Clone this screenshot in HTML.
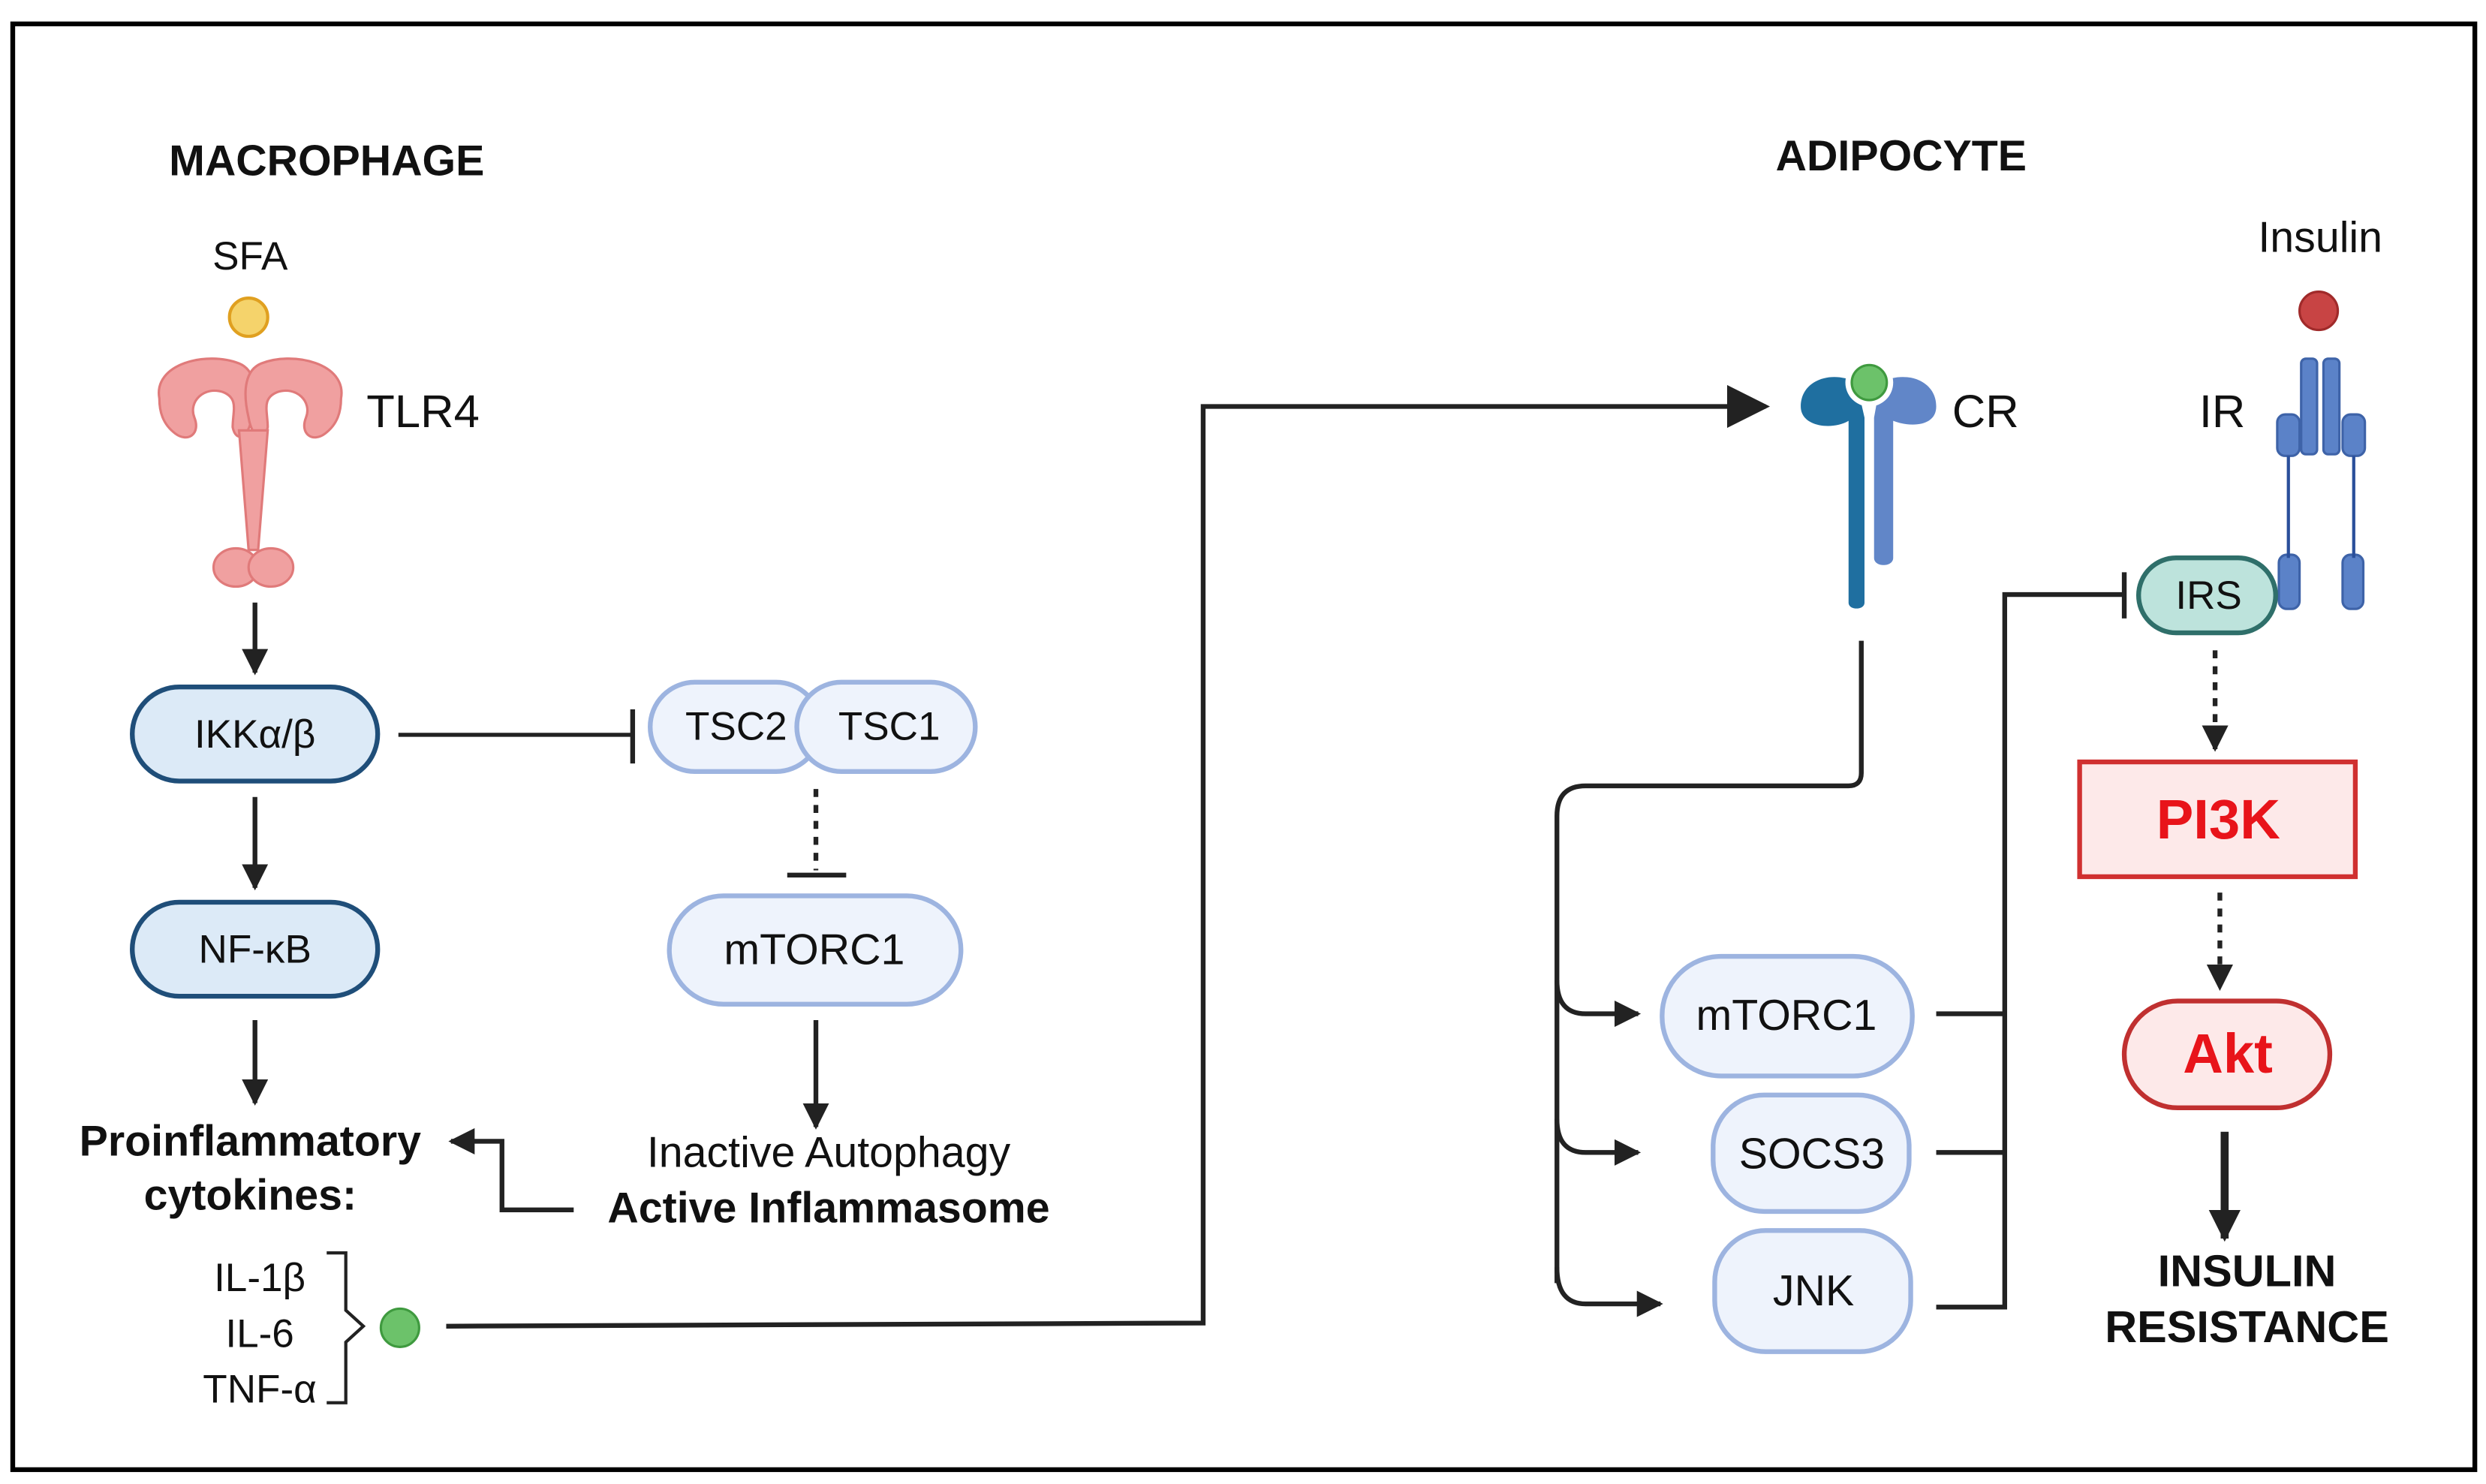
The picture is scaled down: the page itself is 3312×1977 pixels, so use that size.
<!DOCTYPE html>
<html><head><meta charset="utf-8"><style>
html,body{margin:0;padding:0;background:#fff;}
svg{display:block;}
text{font-family:"Liberation Sans",sans-serif;fill:#111;}
.b{font-weight:bold;}
</style></head><body>
<svg width="3312" height="1977" viewBox="0 0 1560 931" preserveAspectRatio="none" xmlns="http://www.w3.org/2000/svg">
<defs>
<marker id="ah" viewBox="0 0 10 10" refX="9" refY="5" markerWidth="5.5" markerHeight="5.5" orient="auto" markerUnits="strokeWidth"><path d="M0,0 L10,5 L0,10 z" fill="#222"/></marker>
<marker id="ahb" viewBox="0 0 10 10" refX="9" refY="5" markerWidth="4" markerHeight="4" orient="auto" markerUnits="strokeWidth"><path d="M0,0 L10,5 L0,10 z" fill="#222"/></marker>
<marker id="ahs" viewBox="0 0 10 10" refX="9" refY="5" markerWidth="9" markerHeight="9" orient="auto" markerUnits="strokeWidth"><path d="M0,0 L10,5 L0,10 z" fill="#222"/></marker>
</defs>
<rect x="0" y="0" width="1560" height="931" fill="#fff"/>
<rect x="8" y="15" width="1545" height="907" fill="none" stroke="#000" stroke-width="3"/>

<text x="205" y="110" font-size="27" class="b" text-anchor="middle">MACROPHAGE</text>
<text x="157" y="169" font-size="25" text-anchor="middle">SFA</text>
<circle cx="156" cy="199" r="12" fill="#f5d36b" stroke="#e0a020" stroke-width="2"/>
<g fill="#f0a0a0" stroke="#e07a7a" stroke-width="1.5">
<path d="M100,250 C96,228 130,220 150,228 C160,232 162,245 158,262 C156,275 148,278 146,268 C146,258 150,250 140,246 C128,242 118,252 122,262 C126,272 118,278 110,272 C102,266 100,258 100,250 z"/>
<path d="M214,250 C218,228 184,220 164,228 C154,232 152,245 156,262 C158,275 166,278 168,268 C168,258 164,250 174,246 C186,242 196,252 192,262 C188,272 196,278 204,272 C212,266 214,258 214,250 z"/>
<path d="M150,270 L156,345 L162,345 L168,270 z"/>
<ellipse cx="148" cy="356" rx="14" ry="12"/>
<ellipse cx="170" cy="356" rx="14" ry="12"/>
</g>
<text x="230" y="268" font-size="29">TLR4</text>
<line x1="160" y1="378" x2="160" y2="422" stroke="#222" stroke-width="3" marker-end="url(#ah)"/>

<rect x="83" y="431" width="154" height="59" rx="29.5" fill="#dceaf7" stroke="#1f4e79" stroke-width="3"/>
<text x="160" y="469" font-size="25" text-anchor="middle">IKKα/β</text>
<line x1="160" y1="500" x2="160" y2="557" stroke="#222" stroke-width="3" marker-end="url(#ah)"/>
<rect x="83" y="566" width="154" height="59" rx="29.5" fill="#dceaf7" stroke="#1f4e79" stroke-width="3"/>
<text x="160" y="604" font-size="25" text-anchor="middle">NF-κB</text>
<line x1="160" y1="640" x2="160" y2="692" stroke="#222" stroke-width="3" marker-end="url(#ah)"/>
<text x="157" y="725" font-size="27" class="b" text-anchor="middle">Proinflammatory</text>
<text x="157" y="759" font-size="27" class="b" text-anchor="middle">cytokines:</text>

<line x1="250" y1="461" x2="396" y2="461" stroke="#222" stroke-width="2.5"/>
<line x1="397" y1="445" x2="397" y2="479" stroke="#222" stroke-width="3"/>
<rect x="408" y="428" width="107" height="56" rx="28" fill="#eef3fc" stroke="#9db4e0" stroke-width="3"/>
<rect x="500" y="428" width="112" height="56" rx="28" fill="#eef3fc" stroke="#9db4e0" stroke-width="3"/>
<text x="462" y="464" font-size="25" text-anchor="middle">TSC2</text>
<text x="558" y="464" font-size="25" text-anchor="middle">TSC1</text>
<line x1="512" y1="495" x2="512" y2="546" stroke="#222" stroke-width="3" stroke-dasharray="5,5"/>
<line x1="494" y1="549" x2="531" y2="549" stroke="#222" stroke-width="3"/>
<rect x="420" y="562" width="183" height="68" rx="34" fill="#eef3fc" stroke="#9db4e0" stroke-width="3"/>
<text x="511" y="605" font-size="27" text-anchor="middle">mTORC1</text>
<line x1="512" y1="640" x2="512" y2="707" stroke="#222" stroke-width="3" marker-end="url(#ah)"/>
<text x="520" y="732" font-size="27" text-anchor="middle">Inactive Autophagy</text>
<text x="520" y="767" font-size="27" class="b" text-anchor="middle">Active Inflammasome</text>
<polyline points="360,759 315,759 315,716 283,716" fill="none" stroke="#222" stroke-width="3" marker-end="url(#ah)"/>

<text x="163" y="810" font-size="25" text-anchor="middle">IL-1β</text>
<text x="163" y="845" font-size="25" text-anchor="middle">IL-6</text>
<text x="163" y="880" font-size="25" text-anchor="middle">TNF-α</text>
<path d="M205,786 L217,786 L217,822 L228,832 L217,842 L217,880 L205,880" fill="none" stroke="#222" stroke-width="2"/>
<circle cx="251" cy="833" r="12" fill="#6cc26a" stroke="#3f9a3f" stroke-width="1.5"/>
<polyline points="280,832 755,830 755,255 1108,255" fill="none" stroke="#222" stroke-width="3" marker-end="url(#ahs)"/>

<text x="1193" y="107" font-size="27" class="b" text-anchor="middle">ADIPOCYTE</text>
<path d="M1165,240 C1150,232 1130,238 1130,255 C1130,268 1150,270 1160,264 L1160,378 C1160,383 1170,383 1170,378 L1170,262 z" fill="#1f6fa0"/>
<path d="M1180,240 C1195,232 1215,238 1215,255 C1215,268 1198,268 1188,264 L1188,350 C1188,356 1176,356 1176,350 L1176,262 z" fill="#6186c8"/>
<circle cx="1173" cy="240" r="15" fill="#fff"/>
<circle cx="1173" cy="240" r="11" fill="#6cc26a" stroke="#3f9a3f" stroke-width="1.5"/>
<text x="1225" y="268" font-size="29">CR</text>
<text x="1456" y="158" font-size="27" text-anchor="middle">Insulin</text>
<circle cx="1455" cy="195" r="12" fill="#c84444" stroke="#a02a2a" stroke-width="1.5"/>
<text x="1380" y="268" font-size="29">IR</text>
<g fill="#5b82c8" stroke="#3e63a8" stroke-width="1.5">
<rect x="1444" y="225" width="10" height="60" rx="3"/>
<rect x="1458" y="225" width="10" height="60" rx="3"/>
<rect x="1429" y="260" width="14" height="26" rx="5"/>
<rect x="1470" y="260" width="14" height="26" rx="5"/>
<rect x="1430" y="348" width="13" height="34" rx="5"/>
<rect x="1470" y="348" width="13" height="34" rx="5"/>
</g>
<line x1="1436" y1="286" x2="1436" y2="350" stroke="#2a4f9a" stroke-width="2"/>
<line x1="1477" y1="286" x2="1477" y2="350" stroke="#2a4f9a" stroke-width="2"/>

<path d="M1168,402 L1168,485 Q1168,493 1160,493 L995,493 Q977,493 977,512 L977,805" fill="none" stroke="#222" stroke-width="3"/>
<path d="M977,615 Q977,636 995,636 L1028,636" fill="none" stroke="#222" stroke-width="3" marker-end="url(#ah)"/>
<path d="M977,702 Q977,723 995,723 L1028,723" fill="none" stroke="#222" stroke-width="3" marker-end="url(#ah)"/>
<path d="M977,795 Q977,818 995,818 L1042,818" fill="none" stroke="#222" stroke-width="3" marker-end="url(#ah)"/>
<rect x="1043" y="600" width="157" height="75" rx="37" fill="#eef3fc" stroke="#9db4e0" stroke-width="3"/>
<text x="1121" y="646" font-size="27" text-anchor="middle">mTORC1</text>
<rect x="1075" y="687" width="123" height="73" rx="32" fill="#eef3fc" stroke="#9db4e0" stroke-width="3"/>
<text x="1137" y="733" font-size="27" text-anchor="middle">SOCS3</text>
<rect x="1076" y="772" width="123" height="76" rx="32" fill="#eef3fc" stroke="#9db4e0" stroke-width="3"/>
<text x="1138" y="819" font-size="27" text-anchor="middle">JNK</text>
<polyline points="1215,636 1258,636" fill="none" stroke="#222" stroke-width="3"/>
<polyline points="1215,723 1258,723" fill="none" stroke="#222" stroke-width="3"/>
<polyline points="1215,820 1258,820 1258,373 1332,373" fill="none" stroke="#222" stroke-width="3"/>
<line x1="1333" y1="359" x2="1333" y2="388" stroke="#222" stroke-width="3"/>
<rect x="1342" y="350" width="86" height="47" rx="23.5" fill="#bde3dc" stroke="#2f6f6a" stroke-width="3"/>
<text x="1386" y="382" font-size="25" text-anchor="middle">IRS</text>
<line x1="1390" y1="408" x2="1390" y2="470" stroke="#222" stroke-width="3" stroke-dasharray="5,5" marker-end="url(#ah)"/>
<rect x="1305" y="478" width="173" height="72" fill="#fde9e9" stroke="#d03030" stroke-width="3"/>
<text x="1392" y="526" font-size="35" class="b" text-anchor="middle" style="fill:#e8141a">PI3K</text>
<line x1="1393" y1="560" x2="1393" y2="620" stroke="#222" stroke-width="3" stroke-dasharray="5,5" marker-end="url(#ah)"/>
<rect x="1333" y="628" width="129" height="67" rx="33.5" fill="#fde9e9" stroke="#c03030" stroke-width="3"/>
<text x="1398" y="673" font-size="35" class="b" text-anchor="middle" style="fill:#e8141a">Akt</text>
<line x1="1396" y1="710" x2="1396" y2="777" stroke="#222" stroke-width="5" marker-end="url(#ahb)"/>
<text x="1410" y="807" font-size="28" class="b" text-anchor="middle">INSULIN</text>
<text x="1410" y="842" font-size="28" class="b" text-anchor="middle">RESISTANCE</text>
</svg>
</body></html>
